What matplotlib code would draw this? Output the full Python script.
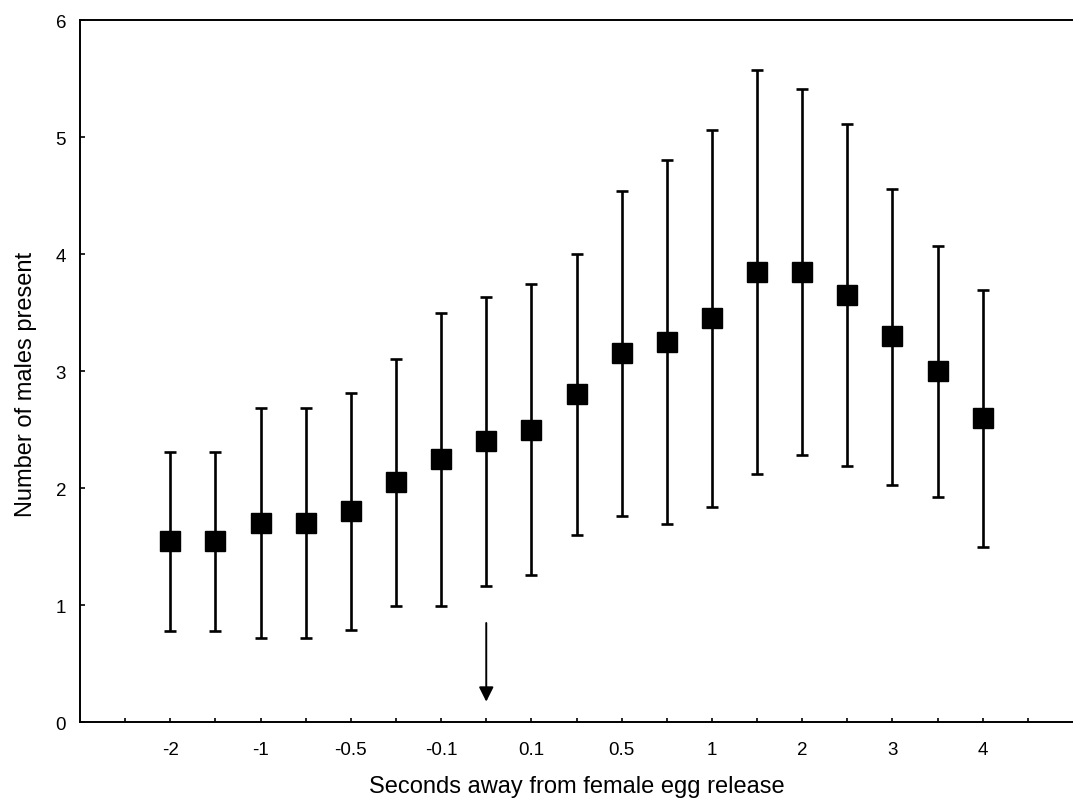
import matplotlib.pyplot as plt

plt.rcParams["font.family"] = ["Liberation Sans", "DejaVu Sans"]

# 19 time bins; labels on every other bin
positions = list(range(2, 21))
means = [1.55, 1.55, 1.70, 1.70, 1.80, 2.05, 2.25, 2.40, 2.50, 2.80,
         3.15, 3.25, 3.45, 3.85, 3.85, 3.65, 3.30, 3.00, 2.60]
upper = [2.31, 2.31, 2.68, 2.68, 2.81, 3.10, 3.50, 3.63, 3.74, 4.00,
         4.54, 4.80, 5.06, 5.57, 5.41, 5.11, 4.56, 4.07, 3.69]
lower = [0.78, 0.78, 0.72, 0.72, 0.79, 0.99, 0.99, 1.16, 1.26, 1.60,
         1.76, 1.69, 1.84, 2.12, 2.28, 2.19, 2.03, 1.92, 1.50]
tick_labels = ["-2", "-1", "-0.5", "-0.1", "0.1", "0.5", "1", "2", "3", "4"]
release_pos = 9

yerr = [[m - lo for m, lo in zip(means, lower)],
        [up - m for m, up in zip(means, upper)]]

fig = plt.figure(figsize=(10.73, 8.12), dpi=100)
ax = fig.add_axes([0.0746, 0.1096, 0.9254, 0.8645])

ax.errorbar(positions, means, yerr=yerr, fmt="s", color="black",
            markersize=14, elinewidth=1.9, capsize=4.3, capthick=1.9)

ax.annotate("", xy=(release_pos, 0.15), xytext=(release_pos, 0.87),
            arrowprops=dict(arrowstyle="-|>", color="black", lw=1.4,
                            mutation_scale=22))

ax.set_xlim(0, 22)
ax.set_ylim(0, 6)
ax.set_xticks(range(1, 22))
ax.set_xticklabels(["" if p % 2 else tick_labels[p // 2 - 1] for p in range(1, 22)])
ax.set_yticks(range(0, 7))

ax.spines["right"].set_visible(False)
for s in ["left", "bottom", "top"]:
    ax.spines[s].set_linewidth(1.4)
ax.tick_params(axis="x", direction="in", length=3, width=1.2, pad=14, labelsize=13.5)
ax.tick_params(axis="y", direction="in", length=3.6, width=1.2, pad=10, labelsize=13.5)

label_font = dict(family=["Liberation Sans Narrow", "Liberation Sans", "DejaVu Sans"], size=17)
ax.set_xlabel("Seconds away from female egg release", labelpad=12, **label_font)
ax.set_ylabel("Number of males present", **label_font)
ax.yaxis.set_label_coords(-0.043, 0.483)

fig.savefig("out.png", dpi=100)
